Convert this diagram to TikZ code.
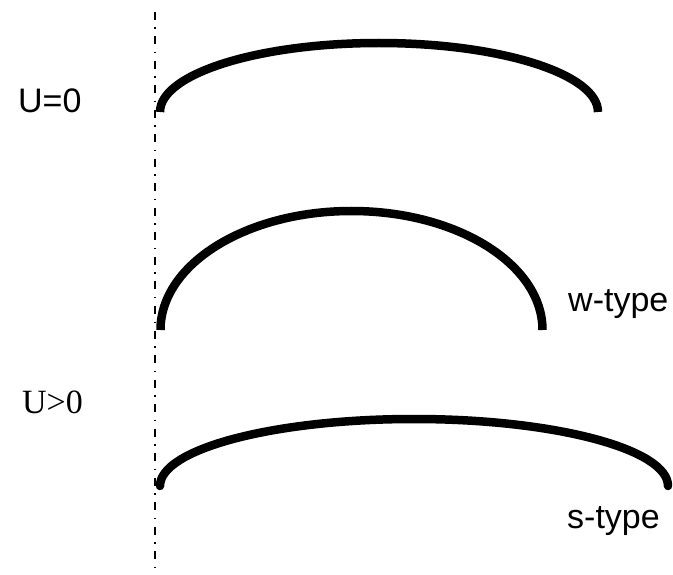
\documentclass[tikz,border=0pt]{standalone}
\usepackage{fontspec}
\setmainfont{Liberation Serif}
\setsansfont{Liberation Sans}
\usepackage{tikz}

\begin{document}
\begin{tikzpicture}[x=1pt,y=-1pt,
  curve/.style={line width=8.5pt},
  symaxis/.style={line width=2.2pt, dash pattern=on 8pt off 7.5pt on 1.5pt off 7.5pt},
  sanslbl/.style={inner sep=0pt, font=\sffamily\fontsize{34}{40}\selectfont},
  seriflbl/.style={inner sep=0pt, font=\rmfamily\fontsize{34}{40}\selectfont}
]
\useasboundingbox (0,0) rectangle (673,575);

% symmetry line
\coordinate (axtop) at (155,12);
\coordinate (axbot) at (155,575);
\draw[symaxis] (axtop) -- (axbot);

% U=0
\node[sanslbl, anchor=base west] (uzero) at (18,113) {U=0};
\draw[curve] (160,112) arc[start angle=180, end angle=360, x radius=219, y radius=69];

% U>0, w-type
\draw[curve] (160.5,330) arc[start angle=180, end angle=360, x radius=191, y radius=119];
\node[sanslbl, anchor=base west] (wtype) at (568,312) {w-type};

% U>0, s-type
\node[seriflbl, anchor=base west] (upos) at (22,413) {U>0};
\draw[curve, line cap=round] (160,486) arc[start angle=180, end angle=360, x radius=254, y radius=67];
\node[sanslbl, anchor=base west] (stype) at (567,528) {s-type};
\end{tikzpicture}
\end{document}
